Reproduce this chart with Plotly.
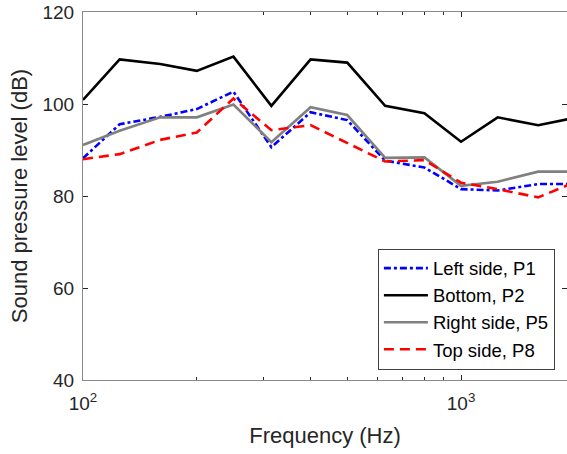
import numpy as np
import plotly.graph_objects as go

freq = [100, 125, 160, 200, 250, 315, 400, 500, 630, 800, 1000, 1250, 1600, 2000]
left_p1 = [88.2, 95.6, 97.2, 98.9, 102.7, 90.6, 98.2, 96.5, 87.7, 86.2, 81.5, 81.2, 82.6, 82.6]
bottom_p2 = [100.9, 109.7, 108.7, 107.2, 110.3, 99.6, 109.7, 109.0, 99.6, 98.0, 91.8, 97.1, 95.4, 97.0]
right_p5 = [91.1, 94.2, 97.1, 97.1, 99.9, 91.7, 99.3, 97.6, 88.3, 88.4, 82.2, 83.1, 85.3, 85.3]
top_p8 = [88.0, 89.1, 92.2, 93.8, 101.2, 94.3, 95.4, 91.6, 87.5, 87.8, 82.9, 81.5, 79.7, 83.0]

x_major = [100, 1000]
x_major_text = ["10<sup>2</sup>", "10<sup>3</sup>"]
x_minor = [200, 300, 400, 500, 600, 700, 800, 900]
y_ticks = [40, 60, 80, 100, 120]

FONT = "Arial, Liberation Sans, Helvetica, sans-serif"
AX = "#262626"
LINE = "#8a8a8a"

fig = go.Figure()
fig.add_trace(go.Scatter(x=freq, y=left_p1, mode="lines", name="Left side, P1",
                         line=dict(color="#0000FF", width=2.6, dash="7px,3px,3px,3px")))
fig.add_trace(go.Scatter(x=freq, y=bottom_p2, mode="lines", name="Bottom, P2",
                         line=dict(color="#000000", width=2.6)))
fig.add_trace(go.Scatter(x=freq, y=right_p5, mode="lines", name="Right side, P5",
                         line=dict(color="#808080", width=2.6)))
fig.add_trace(go.Scatter(x=freq, y=top_p8, mode="lines", name="Top side, P8",
                         line=dict(color="#FF0000", width=2.6, dash="10px,6px")))

fig.update_layout(
    width=567, height=454,
    margin=dict(l=83, r=0, t=12, b=74),
    paper_bgcolor="white", plot_bgcolor="white",
    font=dict(family=FONT, color=AX, size=19),
    showlegend=True,
    legend=dict(x=0.975, y=0.357, xanchor="right", yanchor="top",
                bgcolor="white", bordercolor="#404040", borderwidth=1,
                font=dict(size=18.5, color="#000000"), tracegroupgap=0,
                itemwidth=44),
)
fig.update_xaxes(
    type="log", range=[2, np.log10(1907)],
    tickvals=x_major, ticktext=x_major_text,
    ticks="inside", ticklen=5, tickcolor=AX, tickwidth=1,
    minor=dict(tickvals=x_minor, ticks="inside", ticklen=3, tickcolor=AX, tickwidth=1),
    showline=True, linecolor=LINE, linewidth=1, mirror="ticks",
    showgrid=False, zeroline=False, ticklabelstandoff=6,
    title=dict(text="Frequency (Hz)", font=dict(size=22, color=AX), standoff=14),
    tickfont=dict(size=19, color=AX),
)
fig.update_yaxes(
    range=[40, 120], tickvals=y_ticks,
    ticks="inside", ticklen=5, tickcolor=AX, tickwidth=1,
    showline=True, linecolor=LINE, linewidth=1, mirror="ticks",
    showgrid=False, zeroline=False, ticklabelstandoff=4,
    title=dict(text="Sound pressure level (dB)", font=dict(size=22, color=AX), standoff=8),
    tickfont=dict(size=19, color=AX),
)

fig.write_html("out.html")
